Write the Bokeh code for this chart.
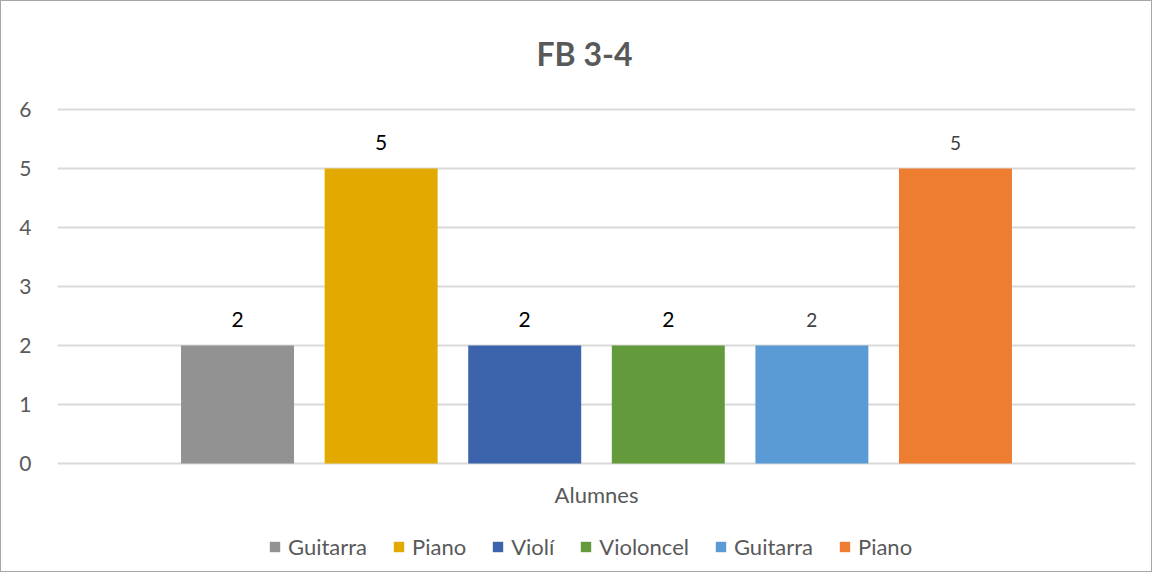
from bokeh.plotting import figure
from bokeh.models import (FactorRange, Range1d, ColumnDataSource, Legend, LegendItem,
                          FixedTicker)
from bokeh.transform import dodge
from bokeh.core.properties import value
from bokeh.embed import file_html
from bokeh.resources import INLINE

# ---- data ----
category = ["Alumnes"]
series_names = ["Guitarra", "Piano", "Violí", "Violoncel", "Guitarra", "Piano"]
series_values = [2, 5, 2, 2, 2, 5]
y_ticks = [0, 1, 2, 3, 4, 5, 6]
chart_title = "FB 3-4"

# ---- styles ----
colors = ["#929292", "#E2AA00", "#3C64AC", "#639A3C", "#5B9BD5", "#ED7D31"]
label_colors = ["#000000", "#000000", "#000000", "#000000", "#404040", "#404040"]
label_sizes = ["21px", "21px", "21px", "21px", "19px", "19px"]
FONT = "Lato"
GRAY = "#595959"

n = len(series_names)
bar_w = 0.1048
step = 0.1332
PX_PER_UNIT = 59.0

# plot area spans the whole chart: room above 6 for the title,
# room below 0 for the category label and the legend
y_lo = -114 / PX_PER_UNIT + 0.068
y_hi = 6 + 108 / PX_PER_UNIT
yr = Range1d(y_lo, y_hi)
p = figure(width=1152, height=572,
           x_range=FactorRange(*category, range_padding=0),
           y_range=yr, output_backend="svg", toolbar_location=None,
           min_border_left=56, min_border_right=18, min_border_top=0,
           min_border_bottom=0)
p.styles = {"border": "1px solid #a6a6a6"}

items = []
for i in range(n):
    off = (i - (n - 1) / 2) * step
    src = ColumnDataSource(dict(x=category, y=[series_values[i]],
                                lbl=[str(series_values[i])]))
    r = p.vbar(x=dodge("x", off, range=p.x_range), top="y", width=bar_w, bottom=0,
               source=src, fill_color=colors[i], line_color=None)
    p.text(x=dodge("x", off, range=p.x_range), y="y", text="lbl", source=src,
           text_align="center", text_baseline="middle", y_offset=-26,
           text_font=value(FONT), text_font_size=label_sizes[i],
           text_color=label_colors[i])
    items.append(LegendItem(label=series_names[i], renderers=[r]))

# chart title, hung from the top edge of the plot area
title_src = ColumnDataSource(dict(x=category[:1], y=[y_hi], t=[chart_title]))
p.text(x="x", y="y", text="t", source=title_src, text_align="center",
       text_baseline="middle", x_offset=-12, y_offset=52, text_font=value(FONT),
       text_font_size="32px", text_font_style="bold", text_color=GRAY)

# category axis label
cat_src = ColumnDataSource(dict(x=category, y=[0] * len(category), t=category))
p.text(x="x", y="y", text="t", source=cat_src, text_align="center",
       text_baseline="middle", y_offset=31, text_font=value(FONT),
       text_font_size="22px", text_color=GRAY)

legend = Legend(items=items, orientation="horizontal", location=(211, 13),
                label_text_font=FONT, label_text_font_size="22px",
                label_text_color=GRAY, glyph_width=13, glyph_height=13,
                label_standoff=7, spacing=25, border_line_color=None,
                background_fill_alpha=0, padding=0, margin=0,
                label_height=24)
p.add_layout(legend)

p.xaxis.visible = False

p.yaxis.ticker = FixedTicker(ticks=y_ticks)
p.yaxis.major_label_text_font = FONT
p.yaxis.major_label_text_font_size = "21px"
p.yaxis.major_label_text_color = GRAY
p.yaxis.major_label_standoff = 20
p.yaxis.axis_line_color = None
p.yaxis.major_tick_line_color = None
p.yaxis.minor_tick_line_color = None

p.xgrid.grid_line_color = None
p.ygrid.grid_line_color = "#D9D9D9"
p.ygrid.grid_line_width = 2
p.outline_line_color = None
p.border_fill_color = "white"

open("out.html", "w").write(file_html(p, INLINE))
